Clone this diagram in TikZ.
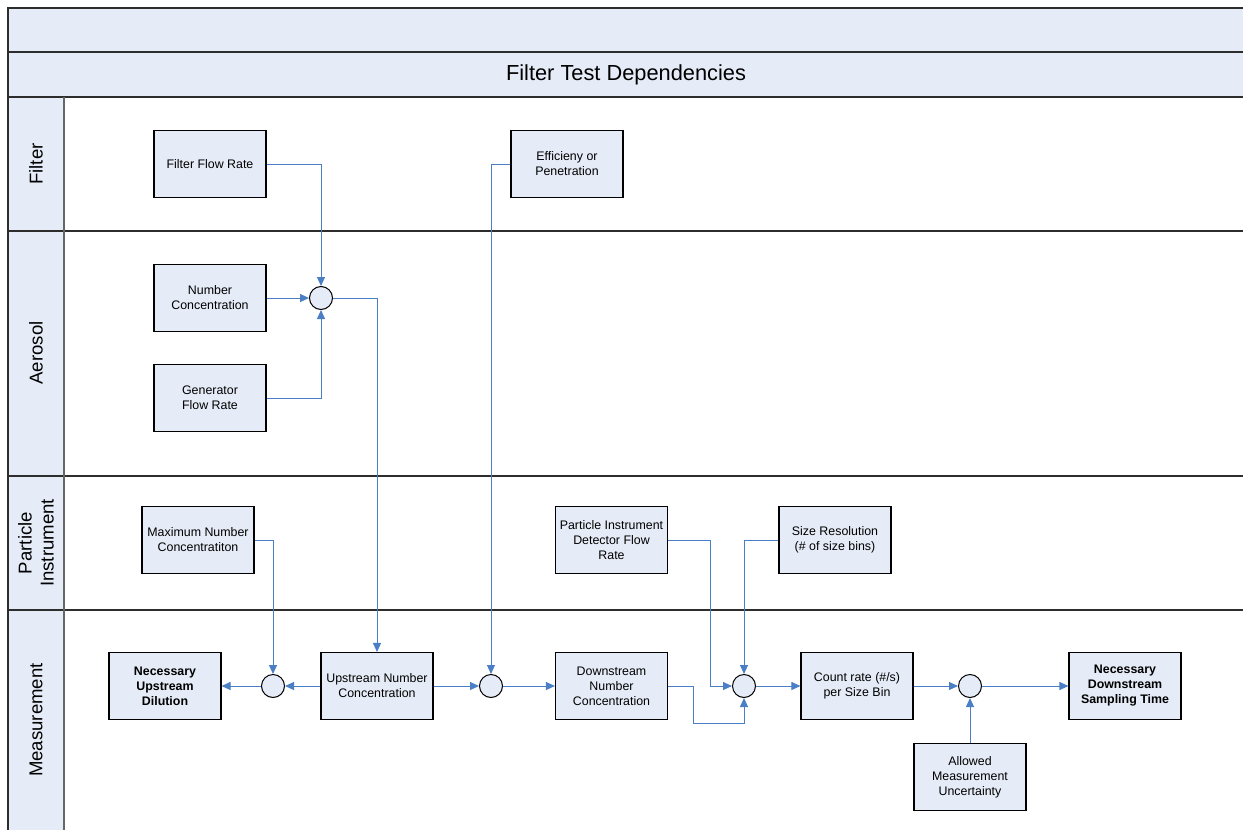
\documentclass[tikz,border=0pt]{standalone}
\usepackage{fontspec}
\setmainfont{Liberation Sans}
\usetikzlibrary{arrows.meta}
\definecolor{lanefill}{RGB}{230,236,247}
\definecolor{conncol}{RGB}{74,126,197}
\definecolor{lanecol}{RGB}{45,45,45}
\tikzset{
  box/.style={draw=black, line width=1.1pt, fill=lanefill, minimum width=112pt, minimum height=67pt, align=center, inner sep=2pt, font=\fontsize{12.4}{15}\selectfont},
  bbox/.style={box, font=\fontsize{12.4}{15}\selectfont\bfseries},
  junc/.style={draw=black, line width=1pt, fill=lanefill, circle, minimum size=23pt, inner sep=0pt},
  conn/.style={draw=conncol, line width=1pt, -{Triangle[length=9pt,width=8pt]}},
  lanelabel/.style={rotate=90, align=center, font=\fontsize{18.6}{22}\selectfont},
  laneline/.style={draw=lanecol, line width=1.8pt}
}
\begin{document}
\begin{tikzpicture}[x=1pt,y=-1pt]
\useasboundingbox (0,0) rectangle (1243,830);
\clip (0,0) rectangle (1243,830);
% frame
\fill[lanefill] (8,8) rectangle (1260,97);
\fill[lanefill] (8,97) rectangle (64,850);
\draw[laneline] (1260,8) -- (8,8) -- (8,850);
\draw[laneline] (8,52) -- (1260,52);
\draw[laneline] (8,97) -- (1260,97);
\draw[laneline] (8,231) -- (1260,231);
\draw[laneline] (8,476) -- (1260,476);
\draw[laneline] (8,610) -- (1260,610);
\draw[draw=gray!80!black, line width=1.3pt] (64,97) -- (64,850);
\node[font=\fontsize{21.8}{26}\selectfont] (title) at (626,75) {Filter Test Dependencies};
\node[lanelabel] (lfilter) at (36,164) {Filter};
\node[lanelabel] (laerosol) at (36,353) {Aerosol};
\node[lanelabel] (lparticle) at (36,543) {Particle\\Instrument};
\node[lanelabel] (lmeas) at (36,720) {Measurement};
% boxes
\node[box] (ffr) at (210,164) {Filter Flow Rate};
\node[box] (eff) at (567,164) {Efficieny or\\Penetration};
\node[box] (nc) at (210,298) {Number\\Concentration};
\node[box] (gfr) at (210,398) {Generator\\Flow Rate};
\node[box] (mnc) at (198,540) {Maximum Number\\Concentratiton};
\node[box] (pid) at (611.5,540) {Particle Instrument\\Detector Flow\\Rate};
\node[box] (sr) at (835,540) {Size Resolution\\(\# of size bins)};
\node[bbox] (nud) at (165,686) {Necessary\\Upstream\\Dilution};
\node[box] (unc) at (377,686) {Upstream Number\\Concentration};
\node[box] (dnc) at (611.5,686) {Downstream\\Number\\Concentration};
\node[box] (cr) at (857,686) {Count rate (\#/s)\\per Size Bin};
\node[bbox] (nds) at (1125,686) {Necessary\\Downstream\\Sampling Time};
\node[box] (amu) at (970,777) {Allowed\\Measurement\\Uncertainty};
% junctions
\node[junc] (c1) at (321,298) {};
\node[junc] (c2) at (273,686) {};
\node[junc] (c3) at (491,686) {};
\node[junc] (c4) at (744,686) {};
\node[junc] (c5) at (970,686) {};
\coordinate (k1) at (710,686);
\coordinate (k2) at (693,723);
% connectors
\draw[conn] (ffr.east) -| (c1.north);
\draw[conn] (nc.east) -- (c1.west);
\draw[conn] (gfr.east) -| (c1.south);
\draw[conn] (c1.east) -| (unc.north);
\draw[conn] (eff.west) -| (c3.north);
\draw[conn] (unc.east) -- (c3.west);
\draw[conn] (c3.east) -- (dnc.west);
\draw[conn] (unc.west) -- (c2.east);
\draw[conn] (c2.west) -- (nud.east);
\draw[conn] (mnc.east) -| (c2.north);
\draw[conn] (pid.east) -| (k1) -- (c4.west);
\draw[conn] (sr.west) -| (c4.north);
\draw[conn] (dnc.east) -| (k2) -| (c4.south);
\draw[conn] (c4.east) -- (cr.west);
\draw[conn] (cr.east) -- (c5.west);
\draw[conn] (c5.east) -- (nds.west);
\draw[conn] (amu.north) -- (c5.south);
\end{tikzpicture}
\end{document}
